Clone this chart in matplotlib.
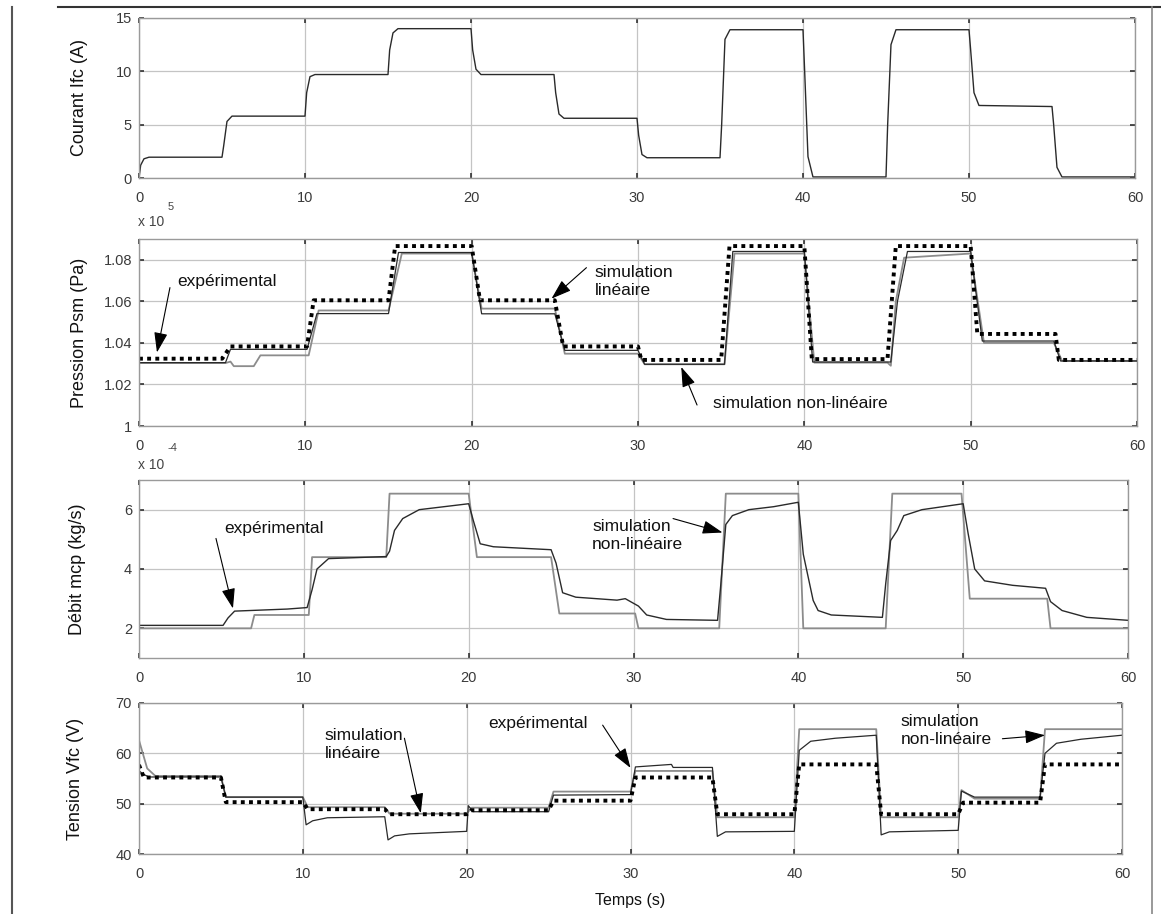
import matplotlib
matplotlib.use('Agg')
import matplotlib.pyplot as plt
from matplotlib.lines import Line2D

plt.rcParams['font.family'] = ['Liberation Sans', 'DejaVu Sans']

# ---- Courant Ifc (A) ----
t_ifc = [0, 0.1, 0.3, 0.6, 5.0, 5.1, 5.3, 5.6, 10.0, 10.1, 10.3, 10.6, 15.0, 15.1, 15.3, 15.6,
         20.0, 20.1, 20.3, 20.6, 25.0, 25.1, 25.3, 25.6, 30.0, 30.1, 30.3, 30.6, 35.0, 35.1, 35.3, 35.6,
         40.0, 40.1, 40.3, 40.6, 45.0, 45.1, 45.3, 45.6, 50.0, 50.1, 50.3, 50.6, 55.0, 55.1, 55.3, 55.6, 60.0]
ifc = [0, 1.2, 1.8, 1.95, 1.95, 3.0, 5.3, 5.8, 5.8, 8.0, 9.5, 9.7, 9.7, 12.0, 13.6, 14.0,
       14.0, 12.0, 10.2, 9.7, 9.7, 8.0, 6.0, 5.6, 5.6, 4.0, 2.2, 1.9, 1.9, 5.0, 13.0, 13.9,
       13.9, 10.0, 2.0, 0.1, 0.1, 5.0, 12.5, 13.9, 13.9, 12.0, 8.0, 6.8, 6.7, 5.0, 1.0, 0.1, 0.1]

# ---- Pression Psm (x1e5 Pa) ----
t_psm_lin = [0, 5.0, 5.5, 10.1, 10.5, 15.0, 15.4, 20.0, 20.5, 25.0, 25.5, 30.0, 30.2, 35.0, 35.5,
             40.0, 40.45, 45.0, 45.5, 50.0, 50.4, 55.1, 55.3, 60]
psm_lin = [1.0324, 1.0324, 1.0383, 1.0383, 1.0605, 1.0605, 1.0866, 1.0866, 1.0605, 1.0605, 1.0383,
           1.0383, 1.0318, 1.0318, 1.0866, 1.0866, 1.0322, 1.0322, 1.0866, 1.0866, 1.0443, 1.0443,
           1.0318, 1.0318]
t_psm_nl = [0, 5.2, 5.5, 5.7, 6.9, 7.3, 10.2, 10.8, 15.0, 15.8, 20.0, 20.6, 25.0, 25.6, 30.0, 30.4,
            35.2, 35.8, 40.0, 40.6, 45.0, 45.2, 45.5, 46.0, 50.0, 50.8, 55.0, 55.5, 60]
psm_nl = [1.0303, 1.0303, 1.031, 1.0288, 1.0288, 1.0340, 1.0340, 1.0556, 1.0556, 1.0830, 1.0830,
          1.0565, 1.0565, 1.0348, 1.0348, 1.0297, 1.0297, 1.0830, 1.0830, 1.0305, 1.0305, 1.0290,
          1.0600, 1.0810, 1.0830, 1.0400, 1.0400, 1.0313, 1.0313]
t_psm_exp = [0, 5.2, 5.5, 10.1, 10.7, 15.0, 15.6, 20.0, 20.6, 25.0, 25.6, 30.0, 30.4, 35.2, 35.7,
             40.0, 40.5, 45.2, 45.6, 46.2, 50.0, 50.7, 55.0, 55.4, 60]
psm_exp = [1.0305, 1.0305, 1.0369, 1.0369, 1.0541, 1.0541, 1.0835, 1.0835, 1.0540, 1.0540, 1.0364,
           1.0364, 1.0297, 1.0297, 1.0840, 1.0840, 1.0308, 1.0308, 1.0600, 1.0840, 1.0840, 1.0409,
           1.0409, 1.0313, 1.0313]

# ---- Debit mcp (x1e-4 kg/s) ----
t_mcp_a = [0, 6.8, 7.0, 10.3, 10.5, 15.0, 15.2, 20.0, 20.5, 25.0, 25.5, 30.1, 30.3, 35.2, 35.6,
           40.0, 40.3, 45.3, 45.7, 49.9, 50.4, 55.1, 55.3, 60]
mcp_a = [2.0, 2.0, 2.45, 2.45, 4.40, 4.40, 6.54, 6.54, 4.40, 4.40, 2.50, 2.50, 2.0, 2.0, 6.54,
         6.54, 2.0, 2.0, 6.54, 6.54, 3.0, 3.0, 2.0, 2.0]
t_mcp_b = [0, 5.1, 5.4, 5.8, 9.0, 10.2, 10.5, 10.8, 11.5, 15.0, 15.2, 15.5, 16.0, 17.0, 18.5,
           20.0, 20.3, 20.7, 21.5, 25.0, 25.3, 25.7, 26.5, 29.0, 29.5, 30.3, 30.8, 32.0,
           35.1, 35.3, 35.6, 36.0, 37.0, 38.5, 40.0, 40.3, 40.9, 41.2, 42.0, 45.1, 45.3, 45.6,
           46.0, 46.4, 47.5, 50.0, 50.3, 50.7, 51.3, 53.0, 55.0, 55.3, 56.0, 57.5, 60]
mcp_b = [2.1, 2.1, 2.35, 2.58, 2.65, 2.7, 3.3, 4.0, 4.35, 4.42, 4.6, 5.3, 5.7, 6.0, 6.1,
         6.2, 5.6, 4.85, 4.75, 4.65, 4.2, 3.2, 3.05, 2.95, 3.0, 2.75, 2.45, 2.3,
         2.27, 3.5, 5.5, 5.8, 6.0, 6.1, 6.25, 4.5, 2.94, 2.6, 2.45, 2.37, 3.5, 4.96,
         5.3, 5.8, 6.0, 6.2, 5.2, 4.0, 3.6, 3.45, 3.35, 2.9, 2.6, 2.37, 2.27]

# ---- Tension Vfc (V) ----
t_vfc_lin = [0, 0.3, 5.0, 5.3, 10.0, 10.3, 15.0, 15.3, 20.0, 20.3, 25.0, 25.3, 30.0, 30.3, 35.0,
             35.3, 40.0, 40.3, 45.0, 45.3, 50.0, 50.3, 55.0, 55.3, 60]
vfc_lin = [57.7, 55.2, 55.2, 50.3, 50.3, 48.9, 48.9, 47.9, 47.9, 48.7, 48.7, 50.6, 50.6, 55.2, 55.2,
           47.9, 47.9, 57.8, 57.8, 47.9, 47.9, 50.2, 50.2, 57.8, 57.8]
t_vfc_nl = [0, 0.5, 1.0, 5.0, 5.3, 10.0, 10.3, 15.0, 15.3, 20.0, 20.3, 25.0, 25.3, 30.0, 30.3,
            35.0, 35.3, 40.0, 40.3, 45.0, 45.3, 50.0, 50.2, 51.0, 55.0, 55.3, 60]
vfc_nl = [62.6, 57.0, 55.5, 55.5, 51.3, 51.3, 49.3, 49.3, 48.0, 48.0, 49.2, 49.2, 52.4, 52.4, 56.5,
          56.5, 47.3, 47.3, 64.8, 64.8, 47.3, 47.3, 52.7, 51.0, 51.0, 64.8, 64.8]
t_vfc_exp = [0, 0.3, 0.6, 5.0, 5.3, 10.0, 10.2, 10.6, 11.5, 15.0, 15.2, 15.6, 16.5, 20.0, 20.1,
             20.4, 25.0, 25.3, 30.0, 30.3, 32.5, 32.6, 35.0, 35.3, 35.8, 40.0, 40.3, 41.0, 42.5,
             45.0, 45.3, 45.8, 50.0, 50.2, 51.0, 55.0, 55.3, 56.0, 57.5, 60]
vfc_exp = [56.5, 55.8, 55.3, 55.3, 51.3, 51.3, 45.8, 46.6, 47.2, 47.4, 42.8, 43.6, 44.0, 44.5, 49.6,
           48.4, 48.4, 51.7, 51.8, 57.3, 57.8, 57.2, 57.2, 43.5, 44.4, 44.5, 60.6, 62.4, 63.0,
           63.6, 43.8, 44.4, 44.7, 52.5, 51.3, 51.3, 60.0, 62.0, 62.8, 63.6]

x_ticks = [0, 10, 20, 30, 40, 50, 60]

W, H = 1161, 914
DARK, GRAY, TXT = '#2a2a2a', '#8c8c8c', '#111111'


def box(l, r, t, b):
    return [l / W, 1 - b / H, (r - l) / W, (b - t) / H]


def style(ax, ylim, yticks, yticklabels):
    ax.set_xlim(0, 60)
    ax.set_ylim(*ylim)
    ax.set_xticks(x_ticks)
    ax.set_yticks(yticks)
    ax.set_yticklabels(yticklabels)
    ax.grid(True, color='#c4c4c4', lw=0.9)
    ax.set_axisbelow(True)
    for s in ax.spines.values():
        s.set_color('#9a9a9a')
        s.set_linewidth(1.0)
    ax.tick_params(direction='in', length=3.5, width=1.1, color='#222222',
                   top=True, right=True, labelsize=10.5, labelcolor='#3a3a3a')
    ax.tick_params(axis='x', pad=9)
    ax.tick_params(axis='y', pad=5)


def arrow(ax, tail, head):
    # MATLAB-like annotation arrow: thin shaft, big filled head
    ax.annotate('', xy=head, xytext=tail,
                arrowprops=dict(arrowstyle='-|>,head_length=0.95,head_width=0.32',
                                mutation_scale=13, color='black', lw=0.8,
                                shrinkA=0, shrinkB=0))


def ylab(ax, text, x_px, l_px, r_px):
    ax.text((x_px - l_px) / (r_px - l_px), 0.5, text, rotation=90, ha='center', va='center',
            fontsize=13, color=TXT, transform=ax.transAxes)


fig = plt.figure(figsize=(W / 100, H / 100), dpi=100)

# Courant
ax1 = fig.add_axes(box(139, 1135, 18, 178))
ax1.plot(t_ifc, ifc, color=DARK, lw=1.0)
style(ax1, (0, 15), [0, 5, 10, 15], ['0', '5', '10', '15'])
ylab(ax1, 'Courant Ifc (A)', 80, 139, 1135)

# Pression
ax2 = fig.add_axes(box(139, 1137, 239, 426))
ax2.plot(t_psm_nl, psm_nl, color=GRAY, lw=1.3)
ax2.plot(t_psm_exp, psm_exp, color=DARK, lw=0.9)
ax2.plot(t_psm_lin, psm_lin, color='black', lw=2.8, ls=(0, (1, 1.1)))
style(ax2, (1.0, 1.09), [1.0, 1.02, 1.04, 1.06, 1.08], ['1', '1.02', '1.04', '1.06', '1.08'])
ylab(ax2, 'Pression Psm (Pa)', 80, 139, 1137)
ax2.text(2.3, 1.0695, 'expérimental', fontsize=12.5, color=TXT, va='center')
arrow(ax2, (1.86, 1.0666), (1.08, 1.0354))
ax2.text(27.4, 1.0697, 'simulation\nlinéaire', fontsize=12.5, color=TXT, va='center',
         linespacing=1.25)
arrow(ax2, (26.9, 1.0762), (24.8, 1.0613))
ax2.text(34.5, 1.011, 'simulation non-linéaire', fontsize=12.5, color=TXT, va='center')
arrow(ax2, (33.55, 1.0101), (32.6, 1.0284))

# Debit
ax3 = fig.add_axes(box(139, 1128, 480, 658))
ax3.plot(t_mcp_a, mcp_a, color=GRAY, lw=1.3)
ax3.plot(t_mcp_b, mcp_b, color=DARK, lw=1.0)
style(ax3, (1, 7), [2, 4, 6], ['2', '4', '6'])
ylab(ax3, 'Débit mcp (kg/s)', 77, 139, 1128)
ax3.text(5.2, 5.36, 'expérimental', fontsize=12.5, color=TXT, va='center')
arrow(ax3, (4.67, 5.03), (5.7, 2.67))
ax3.text(27.5, 5.13, 'simulation\nnon-linéaire', fontsize=12.5, color=TXT, va='center',
         linespacing=1.25)
arrow(ax3, (32.4, 5.7), (35.4, 5.23))

# Tension
ax4 = fig.add_axes(box(139, 1122, 703, 854))
ax4.plot(t_vfc_nl, vfc_nl, color=GRAY, lw=1.3)
ax4.plot(t_vfc_exp, vfc_exp, color=DARK, lw=0.9)
ax4.plot(t_vfc_lin, vfc_lin, color='black', lw=2.8, ls=(0, (1, 1.1)))
style(ax4, (40, 70), [40, 50, 60, 70], ['40', '50', '60', '70'])
ylab(ax4, 'Tension Vfc (V)', 76, 139, 1122)
ax4.text(11.35, 61.66, 'simulation\nlinéaire', fontsize=12.5, color=TXT, va='center',
         linespacing=1.25)
arrow(ax4, (16.2, 63.0), (17.2, 48.1))
ax4.text(21.3, 66.0, 'expérimental', fontsize=12.5, color=TXT, va='center')
arrow(ax4, (28.3, 65.6), (30.0, 57.1))
ax4.text(46.5, 64.47, 'simulation\nnon-linéaire', fontsize=12.5, color=TXT, va='center',
         linespacing=1.25)
arrow(ax4, (52.7, 62.9), (55.3, 63.6))

fig.text(630 / W, 1 - 900 / H, 'Temps (s)', ha='center', va='center', fontsize=11.5, color=TXT)

# scale factors (MATLAB style)
fig.text(138 / W, 1 - 222 / H, 'x 10', fontsize=10, color='#444444', va='center')
fig.text(168 / W, 1 - 207 / H, '5', fontsize=8, color='#444444', va='center')
fig.text(138 / W, 1 - 465 / H, 'x 10', fontsize=10, color='#444444', va='center')
fig.text(168 / W, 1 - 448 / H, '-4', fontsize=8, color='#444444', va='center')

# scan border
fig.add_artist(Line2D([12 / W, 12 / W], [0, 1 - 7 / H], color='#555555', lw=1.5))
fig.add_artist(Line2D([58 / W, 1], [1 - 7 / H, 1 - 7 / H], color='#333333', lw=1.5))
fig.add_artist(Line2D([1152 / W, 1152 / W], [0, 1 - 7 / H], color='#888888', lw=1.2))

fig.savefig('out.png', dpi=100)
